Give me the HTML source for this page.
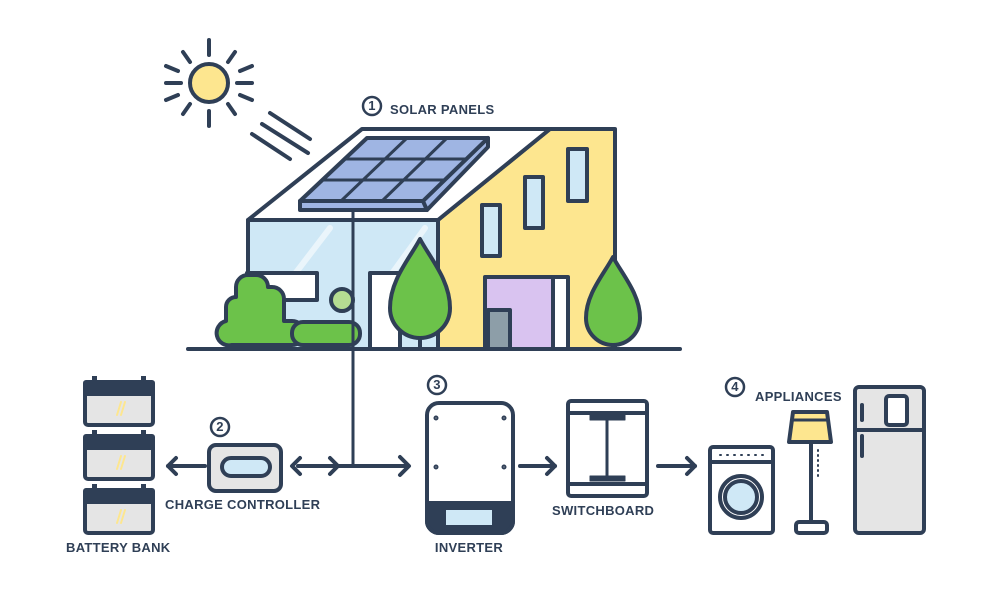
<!DOCTYPE html>
<html><head><style>body{margin:0;background:#fff}svg{display:block}text{font-family:"Liberation Sans",sans-serif;font-weight:bold;font-size:13px;fill:#2f3f56;letter-spacing:0.3px}</style></head><body>
<svg width="1006" height="590" viewBox="0 0 1006 590" xmlns="http://www.w3.org/2000/svg">
<g stroke="#2f3f56" stroke-width="4" stroke-linecap="round" stroke-linejoin="round" fill="none">
<!-- sun -->
<circle cx="209" cy="83" r="19" fill="#fde68f"/>
<line x1="209" y1="40" x2="209" y2="55"/><line x1="209" y1="111" x2="209" y2="126"/>
<line x1="166" y1="83" x2="181" y2="83"/><line x1="237" y1="83" x2="252" y2="83"/>
<line x1="183" y1="52" x2="190" y2="62"/><line x1="235" y1="52" x2="228" y2="62"/>
<line x1="183" y1="114" x2="190" y2="104"/><line x1="235" y1="114" x2="228" y2="104"/>
<line x1="166" y1="66" x2="178" y2="71"/><line x1="252" y1="66" x2="240" y2="71"/>
<line x1="166" y1="100" x2="178" y2="95"/><line x1="252" y1="100" x2="240" y2="95"/>
<line x1="270" y1="113" x2="310" y2="139"/><line x1="262" y1="124" x2="308" y2="153"/><line x1="252" y1="134" x2="290" y2="159"/>
<!-- house -->
<polygon points="438,220 550,129 615,129 615,349 438,349" fill="#fde68f"/>
<polygon points="248,220 362,129 550,129 438,220" fill="#fff"/>
<rect x="248" y="220" width="190" height="129" fill="#cfe8f6"/>
<line x1="275" y1="300" x2="330" y2="228" stroke="#eaf5fb" stroke-width="6"/>
<line x1="380" y1="290" x2="425" y2="228" stroke="#eaf5fb" stroke-width="6"/>
<rect x="568" y="149" width="19" height="52" fill="#cfe8f6"/>
<rect x="525" y="177" width="18" height="51" fill="#cfe8f6"/>
<rect x="482" y="205" width="18" height="51" fill="#cfe8f6"/>
<rect x="485" y="277" width="83" height="72" fill="#fff"/>
<rect x="487" y="279" width="66" height="68" fill="#d9c3f0" stroke="none"/>
<line x1="553" y1="277" x2="553" y2="349"/>
<rect x="488" y="310" width="22" height="39" fill="#8d9ea8"/>
<rect x="370" y="273" width="30" height="76" fill="#fff"/>
<rect x="247" y="273" width="70" height="27" fill="#fff"/>
<!-- solar panel -->
<polygon points="300,201 423,201 427,210 300,210" fill="#9fb5e3"/>
<polygon points="423,201 488,138 488,147 427,210" fill="#9fb5e3"/>
<polygon points="367,138 488,138 423,201 300,201" fill="#9fb5e3"/>
<line x1="345" y1="159" x2="466" y2="159" stroke-width="3"/><line x1="323" y1="180" x2="444" y2="180" stroke-width="3"/>
<line x1="407" y1="138" x2="341" y2="201" stroke-width="3"/><line x1="447" y1="138" x2="382" y2="201" stroke-width="3"/>
<!-- shrubs -->
<path d="M232,345 h60 a12,12 0 0 0 0,-24 h-8 v-22 a12,12 0 0 0 -12,-12 h-4 a12,12 0 0 0 -12,-12 h-8 a12,12 0 0 0 -12,12 v10 a10,10 0 0 0 -10,10 v14 a12,12 0 0 0 6,24 z" fill="#6cc24a"/>
<rect x="292" y="322" width="68" height="23" rx="11" fill="#6cc24a"/>
<circle cx="342" cy="300" r="11" fill="#b5dc92"/>
<!-- trees -->
<path d="M420,239 C410,258 390,280 390,308 A30,30 0 0 0 450,308 C450,280 430,258 420,239 Z" fill="#6cc24a"/>
<line x1="420" y1="338" x2="420" y2="349"/>
<path d="M613,257 C604,274 586,294 586,318 A27,27 0 0 0 640,318 C640,294 622,274 613,257 Z" fill="#6cc24a"/>
<line x1="613" y1="345" x2="613" y2="349"/>
<line x1="188" y1="349" x2="680" y2="349"/>
<line x1="353" y1="212" x2="353" y2="466" stroke-width="3"/>
<!-- flow lines -->
<line x1="298" y1="466" x2="408" y2="466"/>
<polyline points="300,458 292,466 300,474"/><polyline points="330,458 338,466 330,474"/>
<polyline points="400,457 409,466 400,475"/>
<line x1="168" y1="466" x2="205" y2="466"/><polyline points="176,458 168,466 176,474"/>
<line x1="520" y1="466" x2="555" y2="466"/><polyline points="547,458 555,466 547,474"/>
<line x1="658" y1="466" x2="695" y2="466"/><polyline points="687,458 695,466 687,474"/>
<!-- charge controller -->
<rect x="209" y="445" width="72" height="46" rx="7" fill="#e5e5e5"/>
<rect x="222" y="458" width="48" height="18" rx="9" fill="#cfe8f6"/>
<!-- batteries -->
<g fill="#e5e5e5">
<rect x="85" y="382" width="68" height="43" rx="3"/><rect x="85" y="436" width="68" height="43" rx="3"/><rect x="85" y="490" width="68" height="43" rx="3"/>
</g>
<g fill="#2f3f56" stroke="none">
<rect x="83" y="380" width="72" height="16" rx="3"/><rect x="83" y="434" width="72" height="16" rx="3"/><rect x="83" y="488" width="72" height="16" rx="3"/>
<rect x="92" y="376" width="5" height="5"/><rect x="141" y="376" width="5" height="5"/>
<rect x="92" y="430" width="5" height="5"/><rect x="141" y="430" width="5" height="5"/>
<rect x="92" y="484" width="5" height="5"/><rect x="141" y="484" width="5" height="5"/>
</g>
<g stroke="#fde68f" stroke-width="2"><line x1="117" y1="415" x2="121" y2="402"/><line x1="121" y1="415" x2="125" y2="402"/><line x1="117" y1="469" x2="121" y2="456"/><line x1="121" y1="469" x2="125" y2="456"/><line x1="117" y1="523" x2="121" y2="510"/><line x1="121" y1="523" x2="125" y2="510"/></g>
<!-- inverter -->
<rect x="427" y="403" width="86" height="130" rx="12" fill="#fff"/>
<path d="M427,503 h86 v18 a12,12 0 0 1 -12,12 h-62 a12,12 0 0 1 -12,-12 z" fill="#2f3f56"/>
<rect x="446" y="510" width="46" height="15" fill="#cfe8f6" stroke="none"/>
<g stroke-width="2"><circle cx="436" cy="418" r="1.5"/><circle cx="504" cy="418" r="1.5"/><circle cx="436" cy="467" r="1.5"/><circle cx="504" cy="467" r="1.5"/></g>
<!-- switchboard -->
<rect x="568" y="401" width="79" height="95" rx="3" fill="#fff"/>
<line x1="568" y1="413" x2="647" y2="413"/><line x1="568" y1="484" x2="647" y2="484"/>
<rect x="590" y="415" width="35" height="5" fill="#2f3f56" stroke-width="1"/><rect x="590" y="476" width="35" height="5" fill="#2f3f56" stroke-width="1"/>
<line x1="607" y1="420" x2="607" y2="476" stroke-width="3"/>
<!-- washer -->
<rect x="710" y="447" width="63" height="86" rx="3" fill="#fff"/>
<line x1="710" y1="462" x2="773" y2="462"/>
<circle cx="741" cy="497" r="21" fill="#fff"/><circle cx="741" cy="497" r="16" fill="#cfe8f6"/>
<g stroke-width="2"><line x1="720" y1="455" x2="764" y2="455" stroke-dasharray="1,6"/></g>
<!-- lamp -->
<path d="M793,412 h34 l4,30 h-42 z" fill="#fde68f"/>
<line x1="792" y1="420" x2="828" y2="420" stroke-width="3"/>
<line x1="811" y1="442" x2="811" y2="523"/>
<line x1="818" y1="450" x2="818" y2="480" stroke-width="2" stroke-dasharray="1,4"/>
<rect x="796" y="522" width="31" height="11" rx="3" fill="#fff"/>
<!-- fridge -->
<rect x="855" y="387" width="69" height="146" rx="4" fill="#e5e5e5"/>
<line x1="855" y1="430" x2="924" y2="430"/>
<rect x="886" y="396" width="21" height="29" rx="3" fill="#fff"/>
<line x1="862" y1="405" x2="862" y2="420"/><line x1="862" y1="436" x2="862" y2="456"/>
<!-- number circles -->
<g stroke-width="2.5" fill="#fff"><circle cx="372" cy="106" r="9"/><circle cx="220" cy="427" r="9"/><circle cx="437" cy="385" r="9"/><circle cx="735" cy="387" r="9"/></g>
</g>
<g style="font-size:12px"><text x="372" y="110" text-anchor="middle">1</text><text x="220" y="431" text-anchor="middle">2</text><text x="437" y="389" text-anchor="middle">3</text><text x="735" y="391" text-anchor="middle">4</text></g>
<text x="390" y="114">SOLAR PANELS</text>
<text x="165" y="509">CHARGE CONTROLLER</text>
<text x="66" y="552">BATTERY BANK</text>
<text x="469" y="552" text-anchor="middle">INVERTER</text>
<text x="552" y="515">SWITCHBOARD</text>
<text x="755" y="401">APPLIANCES</text>
</svg>
</body></html>
